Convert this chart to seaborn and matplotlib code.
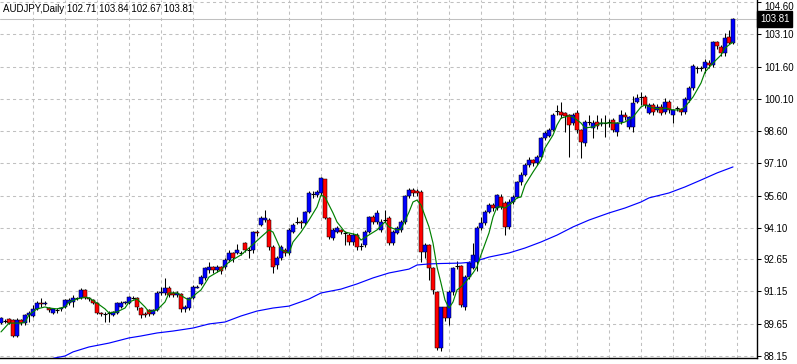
import pandas as pd
import seaborn as sns
import matplotlib.pyplot as plt
import matplotlib.transforms as mtransforms

# daily AUDJPY candles (oldest first)
opens = [89.68, 89.77, 89.87, 89.82, 89.08, 89.82, 89.68, 90.05, 90.00, 90.33,
         90.60, 90.58, 90.38, 90.15, 90.28, 90.33, 90.42, 90.60, 90.66, 90.84,
         90.84, 91.21, 90.84, 90.75, 90.61, 90.15, 90.10, 90.15, 90.05, 90.15,
         90.42, 90.61, 90.61, 90.86, 90.84, 90.38, 90.10, 90.29, 90.10, 90.29,
         91.07, 91.07, 91.30, 91.07, 90.98, 91.03, 90.33, 90.38, 90.84, 91.33,
         91.50, 91.78, 92.14, 92.28, 92.14, 92.28, 92.28, 92.61, 92.93, 92.93,
         92.95, 93.40, 93.07, 93.07, 93.91, 94.23, 94.47, 94.47, 93.21, 92.38,
         92.70, 93.07, 92.93, 93.91, 94.35, 94.38, 94.33, 94.84, 95.72, 95.63,
         95.72, 96.37, 94.56, 93.63, 93.91, 94.00, 93.88, 93.77, 93.44, 93.77,
         93.30, 93.30, 93.91, 94.61, 94.38, 94.00, 94.50, 94.56, 93.40, 93.86,
         94.00, 94.38, 95.58, 95.86, 95.80, 95.77, 92.98, 93.30, 92.24, 91.12,
         88.52, 90.42, 89.91, 91.12, 92.30, 92.33, 90.42, 91.80, 92.24, 92.50,
         94.10, 94.33, 94.84, 95.16, 95.02, 95.54, 95.26, 94.14, 95.30, 95.54,
         96.23, 96.56, 97.02, 97.25, 97.10, 97.39, 98.27, 98.40, 98.65, 99.50,
         99.48, 99.44, 99.35, 98.97, 99.44, 98.65, 98.04, 99.00, 98.74, 99.02,
         98.95, 99.02, 99.00, 99.11, 98.55, 99.02, 99.35, 98.80, 98.80, 99.95,
         100.15, 100.18, 99.44, 99.81, 99.58, 99.72, 99.48, 99.95, 99.35, 99.65,
         99.62, 99.48, 100.04, 100.60, 101.50, 101.53, 101.53, 101.76, 101.67, 102.73,
         102.50, 102.22, 102.97, 102.71]
highs = [89.95, 89.87, 89.92, 89.87, 89.90, 89.87, 90.10, 90.25, 90.50, 90.73,
         90.84, 90.70, 90.45, 90.40, 90.40, 90.45, 90.80, 90.85, 90.98, 90.90,
         91.30, 91.25, 90.90, 90.80, 90.65, 90.20, 90.20, 90.25, 90.25, 90.65,
         90.70, 90.70, 90.95, 90.92, 90.90, 90.42, 90.20, 90.35, 90.33, 91.15,
         91.35, 91.77, 91.40, 91.15, 91.15, 91.10, 90.50, 90.90, 91.45, 91.45,
         91.90, 92.30, 92.50, 92.35, 92.40, 92.35, 92.70, 93.10, 93.00, 93.35,
         93.05, 93.45, 93.20, 93.95, 94.00, 94.65, 94.93, 94.56, 93.30, 92.80,
         93.30, 93.15, 94.10, 94.35, 94.60, 94.45, 94.90, 95.80, 95.80, 95.85,
         96.45, 96.40, 94.60, 94.10, 94.20, 94.05, 93.95, 93.85, 93.85, 93.85,
         93.40, 94.00, 94.65, 94.70, 94.93, 94.50, 94.95, 94.65, 94.00, 94.20,
         94.45, 95.65, 95.95, 95.95, 95.90, 95.85, 93.40, 93.35, 92.30, 91.15,
         90.45, 90.45, 91.20, 92.30, 92.55, 92.40, 91.90, 92.55, 93.40, 94.20,
         94.60, 94.95, 95.25, 95.25, 95.70, 95.70, 95.35, 95.45, 95.65, 96.30,
         96.70, 97.10, 97.40, 97.30, 97.50, 98.35, 98.60, 98.75, 99.45, 99.81,
         99.95, 99.50, 99.40, 99.45, 99.60, 98.70, 99.10, 99.35, 99.10, 99.35,
         99.20, 99.35, 99.15, 99.20, 99.05, 99.60, 99.50, 99.30, 100.25, 100.35,
         100.40, 100.30, 99.90, 99.90, 99.85, 99.85, 100.15, 100.05, 99.65, 99.75,
         99.70, 100.20, 100.70, 101.72, 101.62, 101.65, 101.95, 101.90, 102.80, 102.80,
         102.60, 103.15, 103.30, 103.84]
lows = [89.64, 89.68, 89.63, 89.05, 89.05, 89.60, 89.60, 89.75, 89.95, 90.30,
        90.42, 90.50, 90.20, 90.10, 90.15, 90.25, 90.38, 90.50, 90.42, 90.75,
        90.80, 90.80, 90.70, 90.55, 90.10, 90.00, 89.72, 89.72, 90.00, 90.10,
        90.38, 90.55, 90.55, 90.78, 90.30, 89.90, 89.95, 90.00, 90.05, 90.25,
        91.00, 91.00, 90.90, 90.90, 90.90, 90.20, 90.20, 90.30, 90.80, 91.30,
        91.45, 91.70, 92.00, 92.00, 92.05, 91.95, 92.20, 92.50, 92.50, 92.90,
        92.85, 93.00, 92.70, 92.95, 93.75, 94.20, 94.40, 93.10, 92.00, 92.20,
        92.60, 92.80, 92.85, 93.85, 94.30, 94.10, 94.25, 94.80, 95.50, 95.55,
        95.65, 94.50, 93.60, 93.55, 93.85, 93.80, 93.30, 93.30, 93.30, 93.10,
        93.10, 93.20, 93.85, 94.30, 94.30, 93.90, 94.40, 93.30, 93.30, 93.80,
        93.90, 94.30, 95.50, 95.60, 95.60, 92.52, 92.70, 91.68, 91.05, 88.45,
        88.40, 89.80, 89.60, 91.00, 92.20, 90.45, 90.30, 91.75, 92.20, 92.10,
        94.00, 94.25, 94.80, 94.90, 94.95, 95.00, 93.77, 94.05, 95.20, 95.50,
        96.10, 96.50, 96.95, 97.00, 97.05, 97.30, 98.20, 98.35, 98.60, 99.35,
        99.20, 98.55, 97.39, 98.90, 98.50, 97.35, 97.90, 98.90, 98.30, 98.70,
        98.85, 98.35, 98.80, 98.55, 98.40, 98.95, 99.10, 98.70, 98.55, 99.90,
        99.80, 99.70, 99.40, 99.35, 99.50, 99.35, 99.40, 99.45, 99.00, 99.55,
        99.35, 99.40, 99.95, 100.50, 101.30, 101.40, 101.30, 101.55, 101.60, 102.40,
        102.10, 102.10, 102.65, 102.67]
closes = [89.91, 89.78, 89.68, 89.08, 89.82, 89.68, 90.05, 90.15, 90.33, 90.61,
          90.56, 90.62, 90.29, 90.33, 90.30, 90.38, 90.75, 90.75, 90.84, 90.86,
          91.21, 90.84, 90.80, 90.61, 90.15, 90.10, 90.12, 90.17, 90.19, 90.61,
          90.61, 90.65, 90.89, 90.84, 90.42, 90.05, 90.05, 90.10, 90.29, 91.07,
          91.12, 91.30, 90.98, 90.98, 91.07, 90.33, 90.42, 90.84, 91.35, 91.37,
          91.80, 92.24, 92.28, 92.14, 92.28, 92.10, 92.61, 92.93, 92.70, 93.07,
          92.93, 93.07, 93.10, 93.91, 93.86, 94.56, 94.56, 93.21, 92.28, 92.70,
          93.21, 92.93, 94.00, 94.23, 94.38, 94.33, 94.84, 95.72, 95.70, 95.77,
          96.42, 94.56, 93.68, 94.00, 94.10, 93.91, 93.86, 93.44, 93.77, 93.21,
          93.28, 93.91, 94.61, 94.38, 94.79, 94.38, 94.47, 93.40, 93.91, 94.10,
          94.38, 95.58, 95.86, 95.72, 95.75, 92.98, 93.30, 92.24, 91.21, 88.52,
          90.42, 89.91, 91.12, 92.24, 92.33, 90.52, 91.82, 92.47, 92.84, 94.10,
          94.33, 94.84, 95.16, 95.02, 95.63, 95.07, 94.14, 95.30, 95.54, 96.23,
          96.56, 97.02, 97.25, 97.11, 97.39, 98.27, 98.50, 98.65, 99.35, 99.53,
          99.35, 99.30, 98.88, 99.35, 98.65, 98.09, 99.02, 99.02, 98.97, 98.83,
          99.00, 99.00, 99.02, 98.65, 98.97, 99.35, 99.25, 99.25, 99.90, 100.13,
          100.18, 99.81, 99.81, 99.48, 99.72, 99.44, 99.95, 99.58, 99.58, 99.67,
          99.48, 100.09, 100.60, 101.62, 101.53, 101.55, 101.81, 101.67, 102.73, 102.55,
          102.22, 102.92, 102.69, 103.81]

# fast moving average (green), bar index / value
fast_idx = [0, 2, 5, 6, 7, 9, 11, 12, 14, 16, 17, 19, 21, 22, 24, 26, 27, 29, 31, 32,
            34, 36, 37, 39, 41, 42, 44, 46, 47, 49, 50, 52, 55, 57, 60, 62, 65, 67, 68, 70,
            72, 73, 75, 77, 79, 80, 81, 83, 84, 86, 87, 89, 90, 92, 94, 96, 97, 99, 100, 102,
            103, 104, 105, 107, 108, 109, 110, 111, 112, 113, 114, 115, 117, 118, 119, 120,
            122, 123, 124, 125, 126, 128, 129, 130, 131, 133, 135, 136, 138, 139, 140, 142,
            143, 145, 146, 148, 150, 151, 153, 155, 156, 158, 160, 161, 163, 165, 166, 168,
            170, 171, 173, 175, 176, 178, 180, 181, 183]
fast_ma = [89.27, 89.68, 89.68, 89.73, 90.06, 90.34, 90.43, 90.38, 90.34, 90.43,
           90.66, 90.80, 90.89, 90.85, 90.61, 90.34, 90.15, 90.20, 90.38, 90.66,
           90.80, 90.43, 90.20, 90.29, 90.66, 91.08, 91.08, 90.85, 90.75, 91.08,
           91.22, 91.82, 92.15, 92.52, 92.85, 93.17, 93.68, 94.01, 93.91, 93.08,
           92.94, 93.45, 93.91, 94.47, 95.08, 95.63, 95.54, 94.80, 94.38, 93.91,
           93.87, 93.78, 93.54, 93.78, 94.01, 94.38, 94.15, 94.01, 94.05, 94.84,
           95.31, 95.40, 95.17, 94.15, 93.40, 92.29, 91.54, 90.75, 90.38, 90.66,
           91.22, 91.36, 91.78, 92.01, 92.29, 92.85, 93.87, 94.61, 95.08, 95.08,
           95.03, 95.31, 95.50, 95.54, 96.10, 96.70, 97.26, 97.82, 98.42, 98.89,
           99.21, 99.31, 99.26, 98.98, 98.75, 98.80, 98.98, 98.98, 98.98, 98.98,
           99.03, 99.26, 99.73, 99.82, 99.68, 99.63, 99.68, 99.59, 99.59, 99.73,
           100.19, 100.84, 101.35, 101.77, 102.14, 102.47, 102.75]

# slow moving average (blue)
slow_idx = [13, 16, 18, 22, 27, 32, 35, 39, 43, 48, 52, 56, 60, 64, 68, 72, 77, 80,
            85, 89, 93, 97, 102, 104, 107, 110, 115, 118, 122, 127, 131, 135, 139,
            143, 147, 152, 156, 160, 162, 167, 171, 175, 179, 183]
slow_ma = [88.04, 88.15, 88.34, 88.57, 88.75, 88.99, 89.08, 89.22, 89.31, 89.45,
           89.64, 89.73, 90.01, 90.24, 90.38, 90.47, 90.80, 91.08, 91.26, 91.50,
           91.78, 92.01, 92.19, 92.38, 92.43, 92.45, 92.47, 92.52, 92.75, 92.94,
           93.17, 93.45, 93.77, 94.15, 94.47, 94.80, 95.03, 95.31, 95.50, 95.73,
           96.01, 96.33, 96.66, 96.94]

price_labels = ["88.15", "89.65", "91.15", "92.65", "94.10", "95.60",
                "97.10", "98.60", "100.10", "101.60", "103.10", "104.60"]
symbol = "AUDJPY,Daily"

df = pd.DataFrame({"open": opens, "high": highs, "low": lows, "close": closes})
df["bar"] = range(len(df))
df["up"] = df["close"] >= df["open"]

sns.set_theme(style="white")
plt.rcParams["font.family"] = ["Liberation Sans", "DejaVu Sans"]

fig = plt.figure(figsize=(7.97, 3.64), dpi=100)
ax = fig.add_axes([0, 6 / 364, 757 / 797, 358 / 364])

grid_kw = dict(color="#c0c0c0", lw=0.75, ls=(0, (3, 3)), zorder=0)
for p in price_labels:
    ax.axhline(float(p), **grid_kw)
for k in range(1, 24):
    ax.axvline(8 * k - 0.12, **grid_kw)

# current price line
last = df["close"].iloc[-1]
ax.axhline(last, color="#c0c0c0", lw=0.75, zorder=1)

# wicks
ax.vlines(df["bar"], df["low"], df["high"], color="black", lw=0.75, zorder=2)
# bodies (doji drawn as a black dash)
body_lo = df[["open", "close"]].min(axis=1)
body_h = (df["close"] - df["open"]).abs()
doji = body_h < 0.035
colors = ["#0000ff" if u else "#ff0000" for u in df["up"]]
ax.bar(df["bar"][~doji], body_h[~doji], bottom=body_lo[~doji], width=0.78,
       color=[c for c, d in zip(colors, doji) if not d],
       edgecolor="black", linewidth=0.35, zorder=3)
ax.hlines(df["close"][doji], df["bar"][doji] - 0.4, df["bar"][doji] + 0.4,
          color="black", lw=0.8, zorder=3)

sns.lineplot(x=slow_idx, y=slow_ma, color="#0000ff", lw=0.85, ax=ax,
             sort=False, estimator=None, zorder=4)
sns.lineplot(x=fast_idx, y=fast_ma, color="#008000", lw=0.85, ax=ax,
             sort=False, estimator=None, zorder=4)

ax.set_xlim(-0.25, 189)
ax.set_ylim(88.057, 104.70)
ax.set_xticks([])
ax.yaxis.tick_right()
ax.set_yticks([float(p) for p in price_labels])
ax.set_yticklabels(price_labels)
ax.tick_params(axis="y", direction="out", length=3, width=0.75, pad=2,
               labelsize=7, colors="black", right=True)
# top label sits at the very edge; keep it inside the picture
ax.get_yticklabels()[-1].set_va("top")
for s in ["left", "top"]:
    ax.spines[s].set_visible(False)
for s in ["right", "bottom"]:
    ax.spines[s].set_color("black")
    ax.spines[s].set_linewidth(1)
ax.set_xlabel("")
ax.set_ylabel("")

# header and price tag
o, h, l, c = df.iloc[-1][["open", "high", "low", "close"]]
ax.text(0.004, 0.988, f"{symbol} {o:.2f} {h:.2f} {l:.2f} {c:.2f}",
        transform=ax.transAxes, ha="left", va="top", fontsize=7, color="black")
trans = mtransforms.blended_transform_factory(ax.transAxes, ax.transData)
ax.text(1.004, last, f"{last:.2f}", transform=trans, ha="left", va="center",
        fontsize=7, color="white",
        bbox=dict(boxstyle="square,pad=0.3", fc="black", ec="black"))

fig.savefig("out.png", dpi=100)
